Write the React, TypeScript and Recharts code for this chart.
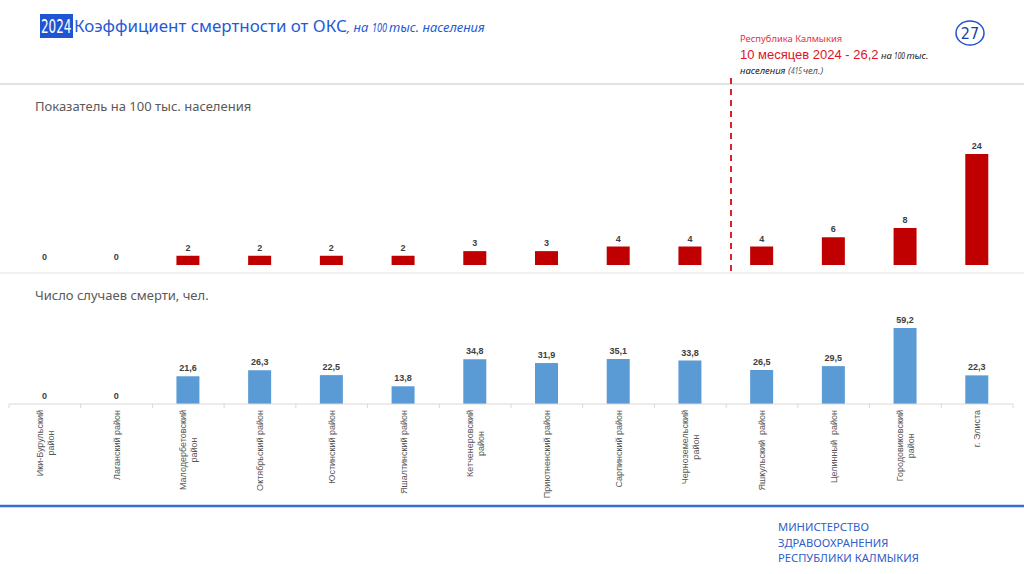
import { Bar, BarChart, LabelList, XAxis, YAxis } from "recharts";

const categories = [
  "Ики-Бурульский\nрайон",
  "Лаганский район",
  "Малодербетовский\nрайон",
  "Октябрьский район",
  "Юстинский район",
  "Яшалтинский район",
  "Кетченеровский\nрайон",
  "Приютненский район",
  "Сарпинский район",
  "Черноземельский\nрайон",
  "Яшкульский  район",
  "Целинный  район",
  "Городовиковский\nрайон",
  "г. Элиста",
];

// верхний ряд (красный) и нижний ряд (синий)
const indicatorValues = [0, 0, 2, 2, 2, 2, 3, 3, 4, 4, 4, 6, 8, 24];
const deathValues = [0, 0, 21.6, 26.3, 22.5, 13.8, 34.8, 31.9, 35.1, 33.8, 26.5, 29.5, 59.2, 22.3];

const data = categories.map((name, i) => ({
  name,
  indicator: indicatorValues[i],
  deaths: deathValues[i],
}));

const W = 1024;
const ML = 9;
const MR = 11;
const BAND = (W - ML - MR) / categories.length;
const AXIS_Y = 104;
const TICK_FONT = "9px 'Liberation Sans', Arial, sans-serif";
const CALIBRI = "'Noto Sans', 'Open Sans', sans-serif";
const CONDENSED = "'DejaVu Sans Condensed', 'Liberation Sans Narrow', sans-serif";

let ctx: CanvasRenderingContext2D | null = null;
function measure(text: string) {
  if (!ctx) ctx = document.createElement("canvas").getContext("2d");
  if (!ctx) return text.length * 5;
  ctx.font = TICK_FONT;
  return ctx.measureText(text).width;
}

const fmt = (v: any) => String(v).replace(".", ",");

function CategoryTick(props: any) {
  const { x, index, payload } = props;
  const lines = String(payload.value).split("\n");
  const maxW = Math.max(...lines.map(measure));
  const lh = 11;
  const last = index === categories.length - 1;
  return (
    <g>
      <line x1={x - BAND / 2} x2={x - BAND / 2} y1={AXIS_Y} y2={AXIS_Y + 4} stroke="#d9d9d9" />
      {last && <line x1={x + BAND / 2} x2={x + BAND / 2} y1={AXIS_Y} y2={AXIS_Y + 4} stroke="#d9d9d9" />}
      <g transform={`translate(${x},${AXIS_Y + 6}) rotate(-90)`}>
        {lines.map((line, i) => (
          <text
            key={i}
            x={-maxW / 2}
            y={(i - (lines.length - 1) / 2) * lh + 3.2}
            textAnchor="middle"
            fill="#595959"
            style={{ font: TICK_FONT, whiteSpace: "pre" }}
          >
            {line}
          </text>
        ))}
      </g>
    </g>
  );
}

const labelStyle = { fontFamily: "'Liberation Sans', Arial, sans-serif", fontSize: 9, fontWeight: 700 };

function Squeezed({ children, width, scale }: { children: any; width: number; scale: number }) {
  return (
    <span style={{ display: "inline-block", width, overflow: "visible", whiteSpace: "nowrap" }}>
      <span style={{ display: "inline-block", transform: `scaleX(${scale})`, transformOrigin: "left center" }}>{children}</span>
    </span>
  );
}

export default function App() {
  return (
    <div style={{ position: "absolute", left: 0, top: 0, width: W, height: 574, background: "#fff", overflow: "hidden" }}>
      <svg width={W} height={574} style={{ position: "absolute", left: 0, top: 0 }}>
        <line x1={0} x2={W} y1={84} y2={84} stroke="#d9d9d9" strokeWidth={1.5} />
        <line x1={0} x2={W} y1={273} y2={273} stroke="#e3e3e3" strokeWidth={1} />
        <line x1={731} x2={731} y1={78} y2={272} stroke="#e0202a" strokeWidth={2} strokeDasharray="6 5" />
        <line x1={0} x2={W} y1={506} y2={506} stroke="#3a6cd6" strokeWidth={2.5} />
        <ellipse cx={970} cy={33} rx={14} ry={12} fill="none" stroke="#1f4fd1" strokeWidth={1.5} />
        <text x={970} y={39} textAnchor="middle" fill="#1a3f9e" style={{ fontFamily: CONDENSED, fontSize: 16 }}>
          27
        </text>
      </svg>

      <div style={{ position: "absolute", left: 40, top: 13, display: "flex", alignItems: "center", whiteSpace: "nowrap", color: "#1f5bd6" }}>
        <span style={{ background: "#1f55d4", color: "#fff", fontFamily: CONDENSED, fontSize: 19, lineHeight: "24px", width: 32, display: "inline-block", paddingLeft: 1 }}>
          <Squeezed width={31} scale={0.7}>2024</Squeezed>
        </span>
        <span style={{ fontFamily: CALIBRI, fontSize: 16.9, lineHeight: "24px", marginLeft: 1 }}>Коэффициент смертности от ОКС</span>
        <span style={{ fontFamily: CALIBRI, fontSize: 13, fontStyle: "italic", lineHeight: "24px", marginTop: 2 }}>
          , на <Squeezed width={14} scale={0.7}>100</Squeezed> тыс. населения
        </span>
      </div>

      <div style={{ position: "absolute", left: 740, top: 32, whiteSpace: "nowrap", fontFamily: CALIBRI }}>
        <div style={{ color: "#e8313b", fontSize: 9.4, lineHeight: "13px" }}>Республика Калмыкия</div>
        <div style={{ lineHeight: "17px" }}>
          <span style={{ color: "#e0141e", fontSize: 13, fontFamily: "'Liberation Sans', Arial, sans-serif" }}>10 месяцев 2024 - 26,2</span>
          <span style={{ color: "#222", fontSize: 9.5, fontStyle: "italic" }}>
            {" "}на <Squeezed width={12} scale={0.7}>100</Squeezed>тыс.
          </span>
        </div>
        <div style={{ color: "#222", fontSize: 9.5, fontStyle: "italic", lineHeight: "14px" }}>
          населения <span style={{ color: "#555" }}>(<Squeezed width={12} scale={0.7}>415</Squeezed>чел.)</span>
        </div>
      </div>

      <div style={{ position: "absolute", left: 35, top: 97, fontFamily: CALIBRI, fontSize: 13, color: "#595959", whiteSpace: "nowrap" }}>
        Показатель на 100 тыс. населения
      </div>
      <div style={{ position: "absolute", left: 35, top: 286, fontFamily: CALIBRI, fontSize: 13, color: "#595959", whiteSpace: "nowrap" }}>
        Число случаев смерти, чел.
      </div>

      <div style={{ position: "absolute", left: 0, top: 120 }}>
        <BarChart width={W} height={160} data={data} margin={{ top: 10, right: MR, left: ML, bottom: 15 }} barCategoryGap={0}>
          <XAxis dataKey="name" hide />
          <YAxis hide domain={[0, 29.2]} />
          <Bar dataKey="indicator" fill="#c00000" barSize={23} minPointSize={0.01} isAnimationActive={false}>
            <LabelList dataKey="indicator" position="top" offset={5} formatter={fmt} fill="#404040" style={labelStyle} />
          </Bar>
        </BarChart>
      </div>

      <div style={{ position: "absolute", left: 0, top: 300 }}>
        <BarChart width={W} height={204} data={data} margin={{ top: 10, right: MR, left: ML, bottom: 0 }}>
          <XAxis
            dataKey="name"
            interval={0}
            height={100}
            axisLine={{ stroke: "#d9d9d9" }}
            tickLine={false}
            tick={<CategoryTick />}
          />
          <YAxis hide domain={[0, 73.2]} />
          <Bar dataKey="deaths" fill="#5b9bd5" barSize={23} minPointSize={0.01} isAnimationActive={false}>
            <LabelList dataKey="deaths" position="top" offset={5} formatter={fmt} fill="#404040" style={labelStyle} />
          </Bar>
        </BarChart>
      </div>

      <div style={{ position: "absolute", left: 778, top: 519, fontFamily: CALIBRI, fontSize: 11.2, lineHeight: "15.5px", color: "#2e5ec8", whiteSpace: "nowrap" }}>
        <div>МИНИСТЕРСТВО</div>
        <div>ЗДРАВООХРАНЕНИЯ</div>
        <div>РЕСПУБЛИКИ КАЛМЫКИЯ</div>
      </div>
    </div>
  );
}
